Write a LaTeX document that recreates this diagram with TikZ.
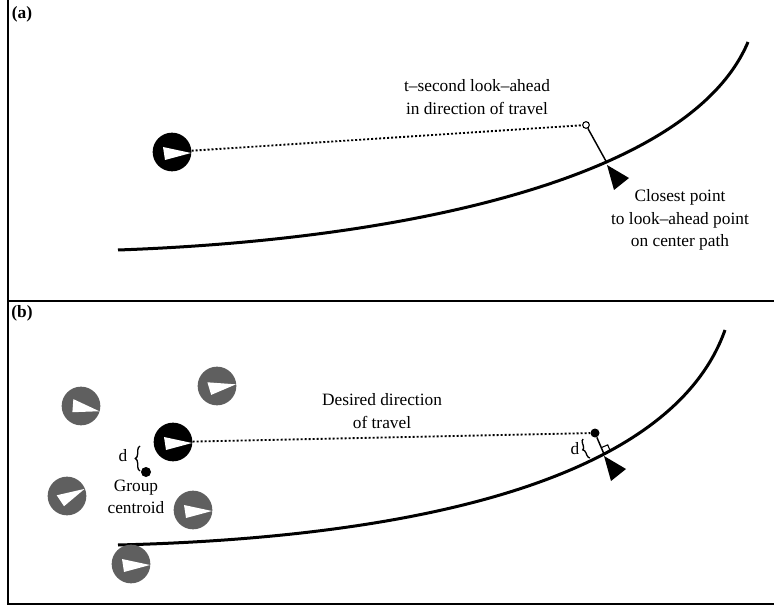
\documentclass[tikz,border=0pt]{standalone}
\usepackage{fontspec}
\setmainfont{Liberation Serif}
\usetikzlibrary{decorations.pathreplacing,calc}
\definecolor{agentgray}{RGB}{95,95,95}

% white heading mark inside an agent disc
\newcommand{\agentmark}[2]{\fill[white,shift={(#1.center)},rotate=#2] (-9,-5) -- (-7,8) -- (19,1) -- cycle;}
% black pointer at the closest path point
\newcommand{\pathpointer}[1]{\fill[shift={(#1)}] (0,2) -- ++(22,13) -- ++(-15,12) -- cycle;}

\begin{document}
\begin{tikzpicture}[x=0.75pt, y=-0.75pt,
  font=\fontsize{13}{17}\selectfont,
  agent/.style={circle, fill=black, minimum size=29pt, inner sep=0pt},
  otheragent/.style={agent, fill=agentgray},
  centerpath/.style={line width=2.25pt},
  lookahead/.style={line width=1.4pt, dash pattern=on 1.5pt off 1.5pt},
  note/.style={align=center, inner sep=0pt},
  frame/.style={line width=1.1pt}
]
  \useasboundingbox (0,0) rectangle (774,609);
  \draw[frame] (8,0) -- (8,604) -- (774,604);
  \draw[frame] (8,301) -- (774,301);
  \node[font=\fontsize{13}{17}\selectfont\bfseries] (tagA) at (22,14) {(a)};
  \node[font=\fontsize{13}{17}\selectfont\bfseries] (tagB) at (22,313) {(b)};

  % (a) look-ahead point
  \draw[centerpath] (118,250) .. controls (400,240) and (690,180) .. (748,42);
  \node[agent] (egoA) at (172,152) {};
  \agentmark{egoA}{0}
  \node[circle, draw, fill=white, line width=0.8pt, minimum size=5pt, inner sep=0pt] (aheadA) at (586,125) {};
  \coordinate (footA) at (607,163);
  \draw[lookahead] (egoA) -- (aheadA);
  \draw[line width=1.1pt] (aheadA) -- (footA);
  \pathpointer{footA}
  \node[note] (noteA) at (477,97) {t–second look–ahead\\in direction of travel};
  \node[note] (closeA) at (680,220) {Closest point\\to look–ahead point\\on center path};

  % (b) group
  \draw[centerpath] (118,545) .. controls (400,538) and (670,485) .. (725,330);
  \foreach \n/\p/\r in {g1/{(217,386)}/8, g2/{(81,406)}/-13, g3/{(67,496)}/25, g4/{(193,510)}/0, g5/{(131,564)}/0}{
    \node[otheragent] (\n) at \p {};
    \agentmark{\n}{\r}
  }
  \node[agent] (egoB) at (173,442) {};
  \agentmark{egoB}{0}
  \node[circle, fill=black, minimum size=7.5pt, inner sep=0pt] (centroid) at (146,472) {};
  \node[circle, fill=black, minimum size=6.75pt, inner sep=0pt] (aheadB) at (595,433) {};
  \coordinate (footB) at (604,454);
  \draw[lookahead] (egoB) -- (aheadB);
  \draw[line width=1.1pt] (aheadB) -- (footB);
  \draw[line width=0.8pt] ($(footB)+(-2.7,-6.4)$) -- ++(6.4,-2.7) -- ++(2.7,6.4);
  \pathpointer{footB}
  \draw[decorate, decoration={brace, amplitude=3.5pt}, line width=1pt] (140,471) -- (140,446);
  \draw[decorate, decoration={brace, amplitude=3pt}, line width=1pt] (590,458) -- (583,439);
  \node (dB) at (123,456) {d};
  \node (dA) at (575,449) {d};
  \node[note] (noteB) at (382,411) {Desired direction\\of travel};
  \node[note] (groupB) at (136,497) {Group\\centroid};
\end{tikzpicture}
\end{document}
